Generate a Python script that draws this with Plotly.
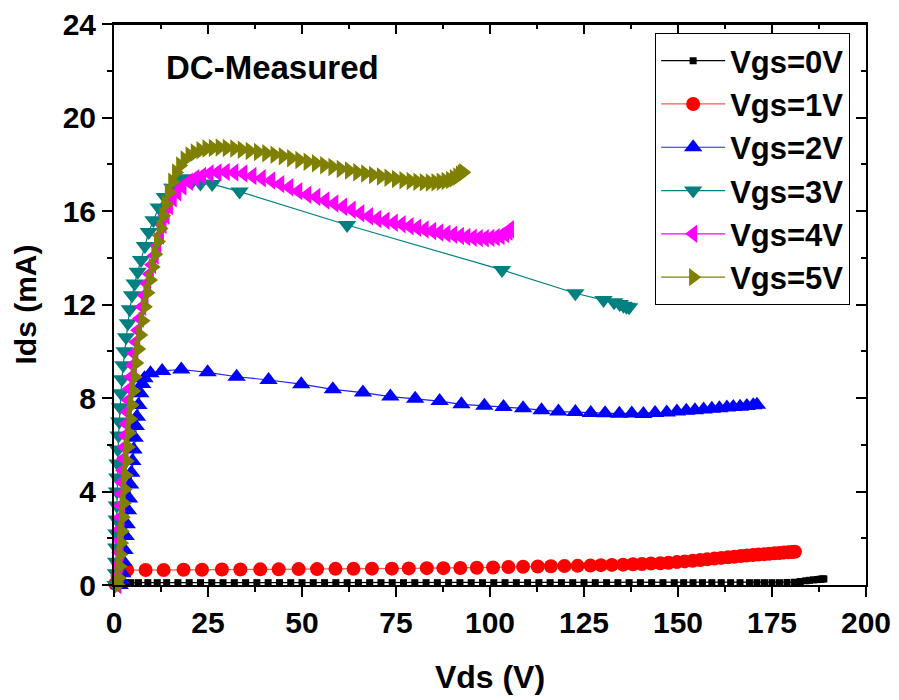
import plotly.graph_objects as go

# ---------------- data ----------------
v0_x = [0.5, 1.2, 2.0, 3.0, 4.5, 6.5, 9.0, 11.5, 14, 17, 20, 23, 26, 29, 32, 35, 38, 41, 44, 47,
        50, 53, 56, 59, 62, 65, 68, 71, 74, 77, 80, 83, 86, 89, 92, 95, 98, 101, 104, 107,
        110, 113, 116, 119, 122, 125, 128, 131, 134, 137, 140, 143, 146, 149, 151.5, 154,
        156.5, 159, 161.5, 164, 166.5, 169, 171, 173, 175, 177, 179, 181, 182.5, 184, 185,
        186, 187, 187.5, 188, 188.5, 188.8]
v0_y = [0.02, 0.08, 0.1, 0.1, 0.1, 0.1, 0.1, 0.1, 0.1, 0.1, 0.1, 0.1, 0.1, 0.1, 0.1, 0.1, 0.1, 0.1, 0.1, 0.1,
        0.1, 0.1, 0.1, 0.1, 0.1, 0.1, 0.1, 0.1, 0.1, 0.1, 0.1, 0.1, 0.1, 0.1, 0.1, 0.1, 0.1, 0.1, 0.1, 0.1,
        0.1, 0.1, 0.1, 0.1, 0.1, 0.1, 0.1, 0.1, 0.1, 0.1, 0.1, 0.1, 0.1, 0.1, 0.1, 0.1,
        0.1, 0.1, 0.1, 0.1, 0.1, 0.1, 0.1, 0.1, 0.1, 0.1, 0.11, 0.12, 0.15, 0.18, 0.2,
        0.22, 0.23, 0.24, 0.25, 0.26, 0.26]

v1_x = [0.3, 1.0, 1.8, 3.5, 8.4, 13.2, 18.5, 23.4, 28.7, 33.6, 38.9, 43.8, 49.1, 54.0, 58.9,
        63.7, 68.6, 73.9, 78.4, 83.2, 87.6, 92.1, 96.5, 100.8, 104.9, 108.8, 112.7, 116.2,
        119.8, 123.3, 126.7, 129.5, 132.4, 135.4, 138.0, 140.4, 142.8, 145.3, 147.5, 149.7,
        151.8, 153.9, 155.9, 157.8, 159.7, 161.5, 163.3, 165.0, 166.7, 168.3, 169.9, 171.4,
        172.9, 174.3, 175.7, 177.0, 178.2, 179.3, 180.3, 181.1]
v1_y = [0.05, 0.35, 0.6, 0.64, 0.64, 0.64, 0.65, 0.65, 0.66, 0.66, 0.67, 0.67, 0.68, 0.68, 0.69,
        0.69, 0.70, 0.70, 0.71, 0.72, 0.72, 0.73, 0.74, 0.75, 0.77, 0.78, 0.79, 0.80,
        0.81, 0.82, 0.83, 0.85, 0.86, 0.87, 0.89, 0.90, 0.92, 0.93, 0.95, 0.98,
        1.01, 1.04, 1.07, 1.10, 1.13, 1.16, 1.19, 1.21, 1.24, 1.26, 1.28, 1.30,
        1.32, 1.34, 1.36, 1.37, 1.39, 1.40, 1.41, 1.42]

v2_x = [1.5, 1.9, 2.2, 2.5, 2.8, 3.1, 3.4, 3.7, 4.0, 4.3, 4.6, 4.9, 5.2, 5.5, 5.8, 6.1, 6.5,
        7.0, 7.5, 8.1, 9.7, 12.8, 17.9, 24.9, 32.6, 41.1, 49.8, 58.2, 66.2, 73.5, 80.1, 86.6,
        92.4, 98.5, 103.6, 108.8, 113.7, 118.2, 122.7, 126.8, 130.6, 134.4, 137.7, 140.8,
        143.9, 147.0, 149.7, 152.2, 154.5, 156.8, 159.0, 161.0, 163.0, 164.7, 166.5, 168.3,
        170.0, 171.0]
v2_y = [0.0, 0.2, 0.5, 1.0, 1.5, 2.1, 2.6, 3.2, 3.7, 4.3, 4.8, 5.3, 5.8, 6.3, 6.8, 7.2, 7.7,
        8.2, 8.6, 8.85, 9.06, 9.16, 9.22, 9.10, 8.91, 8.77, 8.59, 8.37, 8.23, 8.06, 7.97, 7.87,
        7.73, 7.67, 7.61, 7.56, 7.48, 7.42, 7.40, 7.36, 7.35, 7.33, 7.34, 7.32,
        7.36, 7.38, 7.42, 7.45, 7.48, 7.51, 7.54, 7.56, 7.59, 7.61, 7.63, 7.66,
        7.69, 7.71]

v3_x = [0.4, 0.5, 0.55, 0.6, 0.65, 0.7, 0.75, 0.8, 0.87, 0.95, 1.05, 1.2, 1.4, 1.6, 1.85, 2.1,
        2.45, 2.8, 3.2, 3.7, 4.2, 4.8, 5.5, 6.3, 7.2, 8.2, 9.25, 10.5, 11.9, 13.5, 15.5, 17.0,
        18.6, 20.8, 23.0, 26.1, 33.4, 62.0, 103.2, 122.7, 130.2, 133.0, 134.5, 135.5, 136.3,
        137.0]
v3_y = [0.0, 0.5, 1.0, 1.6, 2.2, 2.8, 3.4, 4.0, 4.6, 5.2, 5.8, 6.4, 7.0, 7.6, 8.2, 8.8,
        9.4, 10.0, 10.6, 11.2, 11.8, 12.4, 12.9, 13.4, 13.9, 14.5, 15.1, 15.6, 16.15, 16.6, 17.0, 17.3,
        17.4, 17.25, 17.18, 17.15, 16.83, 15.4, 13.48, 12.48, 12.19, 12.1, 12.02, 11.95, 11.9,
        11.88]

v4_x = [0.9, 1.1, 1.25, 1.4, 1.5, 1.6, 1.75, 1.9, 2.05, 2.2, 2.4, 2.6, 2.8, 3.0, 3.3, 3.6, 3.9,
        4.2, 4.6, 5.0, 5.4, 5.9, 6.4, 6.9, 7.5, 8.1, 8.8, 9.5, 10.1, 10.8, 11.5, 12.2, 12.9,
        13.7, 14.6, 15.6, 16.8, 18.2, 19.9, 21.6, 23.4, 25.4, 27.5, 29.7, 32.0, 34.4, 36.8,
        39.3, 41.8, 44.2, 46.6, 49.0, 51.4, 53.8, 56.2, 58.6, 60.9, 63.2, 65.5, 67.8, 70.0,
        72.2, 74.4, 76.5, 78.6, 80.6, 82.6, 84.6, 86.5, 88.4, 90.2, 92.0, 93.7, 95.4, 97.0,
        98.6, 100.1, 101.5, 102.8, 104.0, 104.9, 105.3]
v4_y = [0.0, 0.4, 0.9, 1.4, 1.9, 2.4, 2.9, 3.4, 3.9, 4.4, 4.9, 5.4, 5.9, 6.4, 6.9, 7.4, 7.9,
        8.4, 8.9, 9.4, 9.9, 10.4, 10.9, 11.4, 11.9, 12.4, 12.9, 13.3, 13.7, 14.1, 14.5, 14.95, 15.4,
        15.8, 16.2, 16.55, 16.8, 17.05, 17.25, 17.4, 17.5, 17.6, 17.65, 17.67, 17.65, 17.6, 17.5,
        17.4, 17.3, 17.15, 17.02, 16.85, 16.7, 16.6, 16.45, 16.32, 16.18, 16.05, 15.9, 15.78, 15.66,
        15.58, 15.5, 15.43, 15.35, 15.28, 15.21, 15.14, 15.08, 15.03, 14.98, 14.93, 14.89, 14.86, 14.84,
        14.83, 14.85, 14.88, 14.93, 15.02, 15.12, 15.22]

v5_x = [1.0, 1.3, 1.5, 1.7, 1.9, 2.1, 2.35, 2.6, 2.85, 3.1, 3.4, 3.7, 4.0, 4.35, 4.7, 5.1, 5.5,
        5.95, 6.45, 7.0, 7.6, 8.2, 8.9, 9.6, 10.3, 11.0, 11.7, 12.4, 13.1, 13.8, 14.6, 15.5,
        16.5, 17.6, 18.8, 20.1, 21.5, 23.0, 24.6, 26.3, 28.1, 30.0, 32.0, 34.0, 36.1, 38.3,
        40.5, 42.7, 44.9, 47.1, 49.3, 51.5, 53.7, 55.9, 58.1, 60.3, 62.5, 64.7, 66.8, 68.9,
        71.0, 73.0, 75.0, 77.0, 78.9, 80.7, 82.4, 84.0, 85.5, 86.9, 88.2, 89.4, 90.4, 91.3,
        92.0, 92.5, 92.9]
v5_y = [0.0, 0.3, 0.8, 1.3, 1.8, 2.3, 2.9, 3.5, 4.1, 4.7, 5.3, 5.9, 6.5, 7.1, 7.7, 8.3, 8.9,
        9.5, 10.1, 10.7, 11.3, 11.9, 12.5, 13.05, 13.6, 14.15, 14.7, 15.25, 15.8, 16.3, 16.8, 17.25,
        17.65, 17.95, 18.2, 18.38, 18.5, 18.6, 18.67, 18.7, 18.72, 18.7, 18.67, 18.62, 18.57, 18.52,
        18.47, 18.41, 18.34, 18.26, 18.18, 18.11, 18.04, 17.96, 17.88, 17.8, 17.73, 17.66, 17.6, 17.54,
        17.48, 17.42, 17.37, 17.32, 17.28, 17.25, 17.23, 17.22, 17.23, 17.25, 17.28, 17.33, 17.4, 17.48,
        17.56, 17.62, 17.66]

series_names = ["Vgs=0V", "Vgs=1V", "Vgs=2V", "Vgs=3V", "Vgs=4V", "Vgs=5V"]
x_ticks = [0, 25, 50, 75, 100, 125, 150, 175, 200]
y_ticks = [0, 4, 8, 12, 16, 20, 24]

# ---------------- styling ----------------
FONT = "Liberation Sans, Arial, sans-serif"
styles = [
    dict(color="#000000", symbol="square", size=7),
    dict(color="#FF0000", symbol="circle", size=14),
    dict(color="#0000FF", symbol="triangle-up", size=16),
    dict(color="#008080", symbol="triangle-down", size=16),
    dict(color="#FF00FF", symbol="triangle-left", size=16),
    dict(color="#808000", symbol="triangle-right", size=16),
]
line_colors = ["#000000", "#FF5555", "#2020FF", "#008080", "#FF00FF", "#808000"]

data = [(v0_x, v0_y), (v1_x, v1_y), (v2_x, v2_y), (v3_x, v3_y), (v4_x, v4_y), (v5_x, v5_y)]

fig = go.Figure()
for (xs, ys), name, st, lc in zip(data, series_names, styles, line_colors):
    fig.add_trace(go.Scatter(
        x=xs, y=ys, name=name, mode="lines+markers",
        line=dict(color=lc, width=1.2),
        marker=dict(color=st["color"], symbol=st["symbol"], size=st["size"],
                    line=dict(width=0)),
        cliponaxis=False,
    ))

# dummy traces so the mirrored (inward-tick) top and right axes are drawn
fig.add_trace(go.Scatter(x=[None], y=[None], xaxis="x2", yaxis="y",
                         showlegend=False, hoverinfo="skip"))
fig.add_trace(go.Scatter(x=[None], y=[None], xaxis="x", yaxis="y2",
                         showlegend=False, hoverinfo="skip"))

tickfont = dict(family=FONT, size=30, color="black", weight="bold")
common = dict(showline=True, linecolor="black", linewidth=2, showgrid=False,
              zeroline=False, tickcolor="black", tickwidth=2, ticklen=10,
              automargin=False)

fig.update_layout(
    width=899, height=700,
    margin=dict(l=114, r=33, t=24, b=115),
    paper_bgcolor="white", plot_bgcolor="white",
    xaxis=dict(range=[0, 200], tickvals=x_ticks, ticks="outside", mirror=True,
               tickfont=tickfont,
               minor=dict(ticks="outside", ticklen=5, tickwidth=2, tickcolor="black", dtick=12.5, tick0=0),
               title=dict(text="Vds (V)", font=dict(family=FONT, size=32, color="black", weight="bold"),
                          standoff=28),
               **common),
    yaxis=dict(range=[0, 24], tickvals=y_ticks, ticks="outside", mirror=True,
               tickfont=tickfont,
               minor=dict(ticks="outside", ticklen=5, tickwidth=2, tickcolor="black", dtick=2, tick0=0),
               title=dict(text="Ids (mA)", font=dict(family=FONT, size=30, color="black", weight="bold"),
                          standoff=17),
               **common),
    xaxis2=dict(range=[0, 200], overlaying="x", side="top", anchor="y", ticks="inside",
                tickvals=x_ticks, showticklabels=False,
                minor=dict(ticks="inside", ticklen=5, tickwidth=2, tickcolor="black", dtick=12.5, tick0=0),
                **common),
    yaxis2=dict(range=[0, 24], overlaying="y", side="right", anchor="x", ticks="inside",
                tickvals=y_ticks, showticklabels=False,
                minor=dict(ticks="inside", ticklen=5, tickwidth=2, tickcolor="black", dtick=2, tick0=0),
                **common),
    legend=dict(x=0.7196, y=0.984, xanchor="left", yanchor="top",
                bgcolor="white", bordercolor="black", borderwidth=1,
                font=dict(family=FONT, size=31, color="black", weight="bold"),
                itemwidth=64, tracegroupgap=0),
    showlegend=True,
    annotations=[dict(text="DC-Measured", xref="paper", yref="paper",
                      x=0.0670, y=0.9216, xanchor="left", yanchor="middle",
                      showarrow=False,
                      font=dict(family=FONT, size=33, color="black", weight="bold"))],
    # frame edge along the top of the plot area
    shapes=[dict(type="line", xref="paper", yref="paper", x0=0, x1=1, y0=1, y1=1,
                 line=dict(color="black", width=2), layer="above")],
)

# remove the browser's default 8px body margin so the figure sits at the page origin
fig.write_html("out.html", config={"displayModeBar": False},
               post_script="document.body.style.margin='0px';")
